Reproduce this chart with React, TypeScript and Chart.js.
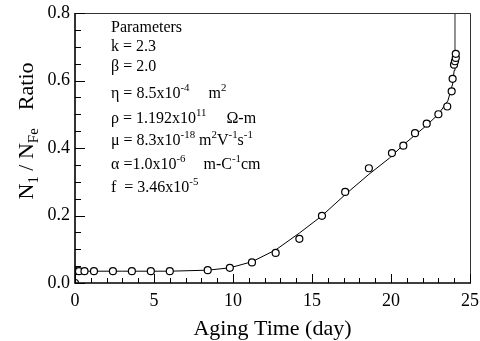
import React, { useEffect, useRef } from "react";
import { Chart, registerables } from "chart.js";

Chart.register(...registerables);

// ---- data ----
const measuredX = [0, 0, 0.25, 0.6, 1.2, 2.4, 3.6, 4.8, 6.0, 8.4, 9.8, 11.2, 12.7, 14.2, 15.63, 17.1, 18.6, 20.06, 20.78, 21.52, 22.26, 23.0, 23.56, 23.84, 23.9, 23.99, 24.05, 24.1, 24.1];
const measuredY = [0, 0.035, 0.035, 0.035, 0.035, 0.035, 0.035, 0.035, 0.035, 0.038, 0.045, 0.061, 0.089, 0.131, 0.199, 0.270, 0.340, 0.385, 0.407, 0.444, 0.472, 0.500, 0.523, 0.568, 0.605, 0.647, 0.657, 0.667, 0.679];

const modelX = [0, 0, 1, 3, 6, 8.4, 9.8, 11.2, 12.7, 14.2, 15.6, 17.2, 18.6, 19.9, 20.8, 22.2, 23.0, 23.6, 23.9, 24.0, 24.05];
const modelY = [0, 0.035, 0.035, 0.035, 0.035, 0.038, 0.045, 0.063, 0.098, 0.148, 0.198, 0.266, 0.322, 0.37, 0.41, 0.465, 0.5, 0.54, 0.59, 0.63, 0.68];

const asymptoteX = [24.05, 24.05];
const asymptoteY = [0.68, 0.8];

const xTicks = [0, 5, 10, 15, 20, 25];
const yTicks = [0, 0.2, 0.4, 0.6, 0.8];
const xMinorStep = 1;
const yMinorStep = 0.05;

const xTitle = "Aging Time (day)";

type Seg = { t: string; sup?: boolean; sub?: boolean; gap?: number };

const paramLines: Seg[][] = [
  [{ t: "Parameters" }],
  [{ t: "k = 2.3" }],
  [{ t: "β = 2.0" }],
  [{ t: "η = 8.5x10" }, { t: "-4", sup: true }, { t: "m", gap: 19 }, { t: "2", sup: true }],
  [{ t: "ρ = 1.192x10" }, { t: "11", sup: true }, { t: "Ω-m", gap: 20 }],
  [{ t: "μ = 8.3x10" }, { t: "-18", sup: true }, { t: "m", gap: 4 }, { t: "2", sup: true }, { t: "V" }, { t: "-1", sup: true }, { t: "s" }, { t: "-1", sup: true }],
  [{ t: "α =1.0x10" }, { t: "-6", sup: true }, { t: "m-C", gap: 18 }, { t: "-1", sup: true }, { t: "cm" }],
  [{ t: "f  = 3.46x10" }, { t: "-5", sup: true }],
];
const paramBaselines = [32, 51, 71, 98, 123, 145, 169, 192];

const yTitleSegs: Seg[] = [
  { t: "N" }, { t: "1", sub: true }, { t: " / N" }, { t: "Fe", sub: true }, { t: "Ratio", gap: 18 },
];

const FONT = "'Liberation Serif', 'Times New Roman', serif";

function segWidth(ctx: CanvasRenderingContext2D, segs: Seg[], size: number) {
  let w = 0;
  for (const s of segs) {
    if (s.gap) w += s.gap;
    const sz = s.sup || s.sub ? size * 0.68 : size;
    ctx.font = `${sz}px ${FONT}`;
    w += ctx.measureText(s.t).width;
  }
  return w;
}

function drawSegs(ctx: CanvasRenderingContext2D, x: number, y: number, segs: Seg[], size: number) {
  let cx = x;
  ctx.textBaseline = "alphabetic";
  ctx.textAlign = "left";
  for (const s of segs) {
    if (s.gap) cx += s.gap;
    const sz = s.sup || s.sub ? size * 0.68 : size;
    ctx.font = `${sz}px ${FONT}`;
    const dy = s.sup ? -size * 0.45 : s.sub ? size * 0.22 : 0;
    ctx.fillText(s.t, cx, y + dy);
    cx += ctx.measureText(s.t).width;
  }
}

const decorPlugin = {
  id: "decor",
  afterDatasetsDraw(chart: any) {
    const { ctx, chartArea } = chart;
    const { left, right, top, bottom } = chartArea;
    const xs = chart.scales.x;
    const ys = chart.scales.y;
    ctx.save();
    // frame
    ctx.strokeStyle = "#333";
    ctx.lineWidth = 1;
    ctx.beginPath();
    ctx.moveTo(left, top + 0.5);
    ctx.lineTo(right + 0.5, top + 0.5);
    ctx.lineTo(right + 0.5, bottom);
    ctx.stroke();
    ctx.strokeStyle = "#000";
    ctx.lineWidth = 1.6;
    ctx.beginPath();
    ctx.moveTo(left, top);
    ctx.lineTo(left, bottom);
    ctx.lineTo(right + 1, bottom);
    ctx.stroke();
    // ticks
    ctx.lineWidth = 1;
    ctx.beginPath();
    for (let v = 0; v <= 25.0001; v += xMinorStep) {
      const px = Math.round(xs.getPixelForValue(v)) + 0.5;
      const major = xTicks.some((t) => Math.abs(t - v) < 1e-6);
      const len = major ? 9 : 5;
      ctx.moveTo(px, bottom);
      ctx.lineTo(px, bottom - len);
    }
    for (let v = 0; v <= 0.80001; v += yMinorStep) {
      const py = Math.round(ys.getPixelForValue(v)) + 0.5;
      const major = yTicks.some((t) => Math.abs(t - v) < 1e-6);
      const len = major ? 10 : 6;
      ctx.moveTo(left, py);
      ctx.lineTo(left + len, py);
    }
    ctx.stroke();
    ctx.restore();
  },
  afterDraw(chart: any) {
    const { ctx, chartArea } = chart;
    ctx.save();
    ctx.fillStyle = "#000";
    // parameters text
    paramLines.forEach((segs, i) => drawSegs(ctx, 111, paramBaselines[i], segs, 16));
    // x title
    ctx.font = `22px ${FONT}`;
    ctx.textAlign = "center";
    ctx.textBaseline = "alphabetic";
    ctx.fillText(xTitle, (chartArea.left + chartArea.right) / 2, 335);
    // y title
    const w = segWidth(ctx, yTitleSegs, 22);
    ctx.translate(33, 131);
    ctx.rotate(-Math.PI / 2);
    drawSegs(ctx, -w / 2, 0, yTitleSegs, 22);
    ctx.restore();
  },
};

export default function App() {
  const ref = useRef<HTMLCanvasElement | null>(null);
  useEffect(() => {
    if (!ref.current) return;
    const chart = new Chart(ref.current, {
      type: "scatter",
      data: {
        datasets: [
          {
            data: measuredX.map((x, i) => ({ x, y: measuredY[i] })),
            pointRadius: 3.5,
            pointBorderWidth: 1.2,
            pointBorderColor: "#000",
            pointBackgroundColor: "#fff",
            showLine: false,
            order: 0,
          },
          {
            data: modelX.map((x, i) => ({ x, y: modelY[i] })),
            showLine: true,
            pointRadius: 0,
            borderColor: "#000",
            borderWidth: 1,
            tension: 0,
            order: 1,
          },
          {
            data: asymptoteX.map((x, i) => ({ x, y: asymptoteY[i] })),
            showLine: true,
            pointRadius: 0,
            borderColor: "#777",
            borderWidth: 1.6,
            order: 2,
          },
        ],
      } as any,
      options: {
        responsive: false,
        animation: false,
        devicePixelRatio: 1,
        layout: { padding: { top: 13, right: 10, left: 0, bottom: 0 } },
        plugins: { legend: { display: false }, tooltip: { enabled: false } },
        scales: {
          x: {
            type: "linear",
            min: 0,
            max: 25,
            afterBuildTicks: (s: any) => { s.ticks = xTicks.map((v) => ({ value: v })); },
            afterFit: (s: any) => { s.height = 58; s.paddingLeft = 0; s.paddingRight = 0; },
            ticks: { color: "#000", font: { family: FONT, size: 18 }, padding: 7, maxRotation: 0 },
            grid: { display: false, drawTicks: false },
            border: { display: false },
          },
          y: {
            type: "linear",
            min: 0,
            max: 0.8,
            afterBuildTicks: (s: any) => { s.ticks = yTicks.map((v) => ({ value: v })); },
            afterFit: (s: any) => { s.width = 75; s.paddingTop = 0; s.paddingBottom = 0; },
            ticks: {
              color: "#000",
              font: { family: FONT, size: 18 },
              padding: 5,
              callback: (v: any) => Number(v).toFixed(1),
            },
            grid: { display: false, drawTicks: false },
            border: { display: false },
          },
        },
      } as any,
      plugins: [decorPlugin],
    });
    return () => chart.destroy();
  }, []);
  return (
    <div style={{ position: "absolute", left: 0, top: 0, width: 480, height: 341, background: "#fff" }}>
      <canvas ref={ref} width={480} height={341} style={{ display: "block" }} />
    </div>
  );
}
